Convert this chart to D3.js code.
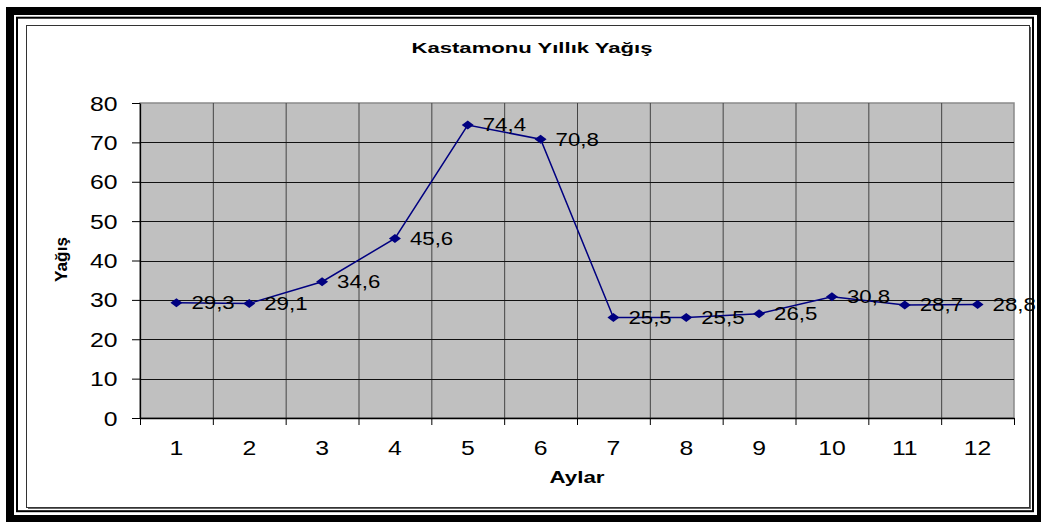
<!DOCTYPE html>
<html>
<head>
<meta charset="utf-8">
<script src="https://cdn.jsdelivr.net/npm/d3@7"></script>
<style>
  body { margin: 0; background: #fff; }
  text { font-family: "Liberation Sans", Arial, sans-serif; fill: #000; }
</style>
</head>
<body>
<div id="chart"></div>
<script>
// === DATA ===
const months = ["1", "2", "3", "4", "5", "6", "7", "8", "9", "10", "11", "12"];
const rainfall = [29.3, 29.1, 34.6, 45.6, 74.4, 70.8, 25.5, 25.5, 26.5, 30.8, 28.7, 28.8];
const yTicks = [0, 10, 20, 30, 40, 50, 60, 70, 80];
const chartTitle = "Kastamonu Yıllık Yağış";
const xTitle = "Aylar";
const yTitle = "Yağış";

// === LAYOUT ===
const width = 1041, height = 522;
const plot = { left: 140, top: 103, right: 1014, bottom: 418 };
const stretch = 1.27; // text in the reference is drawn a bit wide

const svg = d3.select("#chart")
    .append("svg")
    .attr("width", width)
    .attr("height", height);

// Outer frames
svg.append("rect").attr("x", 6).attr("y", 7).attr("width", 1041 - 6).attr("height", 522 - 7).attr("fill", "#000");
svg.append("rect").attr("x", 14).attr("y", 15).attr("width", 1037 - 14).attr("height", 515 - 15).attr("fill", "#fff");
svg.append("rect").attr("x", 17).attr("y", 17.7).attr("width", 1016).attr("height", 493.5)
    .attr("fill", "#fff").attr("stroke", "#000").attr("stroke-width", 2);

// Chart area border with a little shadow
svg.append("rect").attr("x", 26.5).attr("y", 25.5).attr("width", 1003).attr("height", 482)
    .attr("fill", "#fff").attr("stroke", "#333").attr("stroke-width", 1);
svg.append("line").attr("x1", 1030.5).attr("y1", 27).attr("x2", 1030.5).attr("y2", 509).attr("stroke", "#666");
svg.append("line").attr("x1", 28).attr("y1", 508.5).attr("x2", 1031).attr("y2", 508.5).attr("stroke", "#666");

// Scales
const x = d3.scaleBand().domain(months).range([plot.left, plot.right]).padding(0);
const y = d3.scaleLinear().domain([0, 80]).range([plot.bottom, plot.top]);

// Plot background
svg.append("rect")
    .attr("x", plot.left).attr("y", plot.top)
    .attr("width", plot.right - plot.left).attr("height", plot.bottom - plot.top)
    .attr("fill", "#c0c0c0")
    .attr("stroke", "#8a8a8a").attr("stroke-width", 1.5);

// Vertical grid at category boundaries
const bounds = months.map(m => x(m)).concat([plot.right]);
svg.append("g").selectAll("line")
    .data(bounds.slice(1, -1))
    .enter().append("line")
    .attr("x1", d => d + 0.5).attr("x2", d => d + 0.5)
    .attr("y1", plot.top).attr("y2", plot.bottom)
    .attr("stroke", "#444").attr("stroke-width", 1);

// Horizontal grid
svg.append("g").selectAll("line")
    .data(yTicks.slice(1, -1))
    .enter().append("line")
    .attr("x1", plot.left).attr("x2", plot.right)
    .attr("y1", d => Math.round(y(d)) + 0.5).attr("y2", d => Math.round(y(d)) + 0.5)
    .attr("stroke", "#111").attr("stroke-width", 1);

// Y axis
const yAxis = svg.append("g")
    .attr("transform", `translate(${plot.left},0)`)
    .call(d3.axisLeft(y).tickValues(yTicks).tickSize(8).tickSizeOuter(0));
yAxis.select(".domain").attr("stroke", "#000").attr("stroke-width", 1.3);
yAxis.selectAll(".tick line").attr("stroke", "#000");
yAxis.selectAll(".tick text")
    .attr("x", -22.5 / stretch).attr("dy", "0.36em")
    .attr("transform", `scale(${stretch},1)`)
    .style("font-size", "19.5px")
    .style("font-family", "'Liberation Sans', Arial, sans-serif");

// X axis: labels centred on categories, ticks on boundaries
const xAxis = svg.append("g")
    .attr("transform", `translate(0,${plot.bottom})`)
    .call(d3.axisBottom(x).tickSize(0).tickSizeOuter(0));
xAxis.select(".domain").attr("stroke", "#000").attr("stroke-width", 1.3);
xAxis.selectAll(".tick text")
    .attr("y", 37).attr("dy", 0)
    .attr("transform", `scale(${stretch},1)`)
    .style("font-size", "19.5px")
    .style("font-family", "'Liberation Sans', Arial, sans-serif");
svg.append("g").selectAll("line")
    .data(bounds)
    .enter().append("line")
    .attr("x1", d => d + 0.5).attr("x2", d => d + 0.5)
    .attr("y1", plot.bottom).attr("y2", plot.bottom + 7)
    .attr("stroke", "#000");

// Line
const points = months.map((m, i) => ({ m, v: rainfall[i] }));
const line = d3.line()
    .x(d => x(d.m) + x.bandwidth() / 2)
    .y(d => y(d.v));
svg.append("path")
    .datum(points)
    .attr("d", line)
    .attr("fill", "none")
    .attr("stroke", "#000080")
    .attr("stroke-width", 1.5);

// Diamond markers
svg.append("g").selectAll("path")
    .data(points)
    .enter().append("path")
    .attr("transform", d => `translate(${x(d.m) + x.bandwidth() / 2},${y(d.v)})`)
    .attr("d", "M0,-4.5L6,0L0,4.5L-6,0Z")
    .attr("fill", "#000080");

// Data labels
svg.append("g").selectAll("text")
    .data(points)
    .enter().append("text")
    .attr("transform", d => `translate(${x(d.m) + x.bandwidth() / 2 + 15},${y(d.v)}) scale(${stretch},1)`)
    .attr("dy", "0.36em")
    .style("font-size", "17.5px")
    .text(d => String(d.v).replace(".", ","));

// Titles
svg.append("text")
    .attr("x", 532).attr("y", 53)
    .attr("text-anchor", "middle")
    .attr("textLength", 241).attr("lengthAdjust", "spacingAndGlyphs")
    .style("font-size", "15.5px").style("font-weight", "bold")
    .text(chartTitle);

svg.append("text")
    .attr("x", 577).attr("y", 483)
    .attr("text-anchor", "middle")
    .attr("textLength", 55).attr("lengthAdjust", "spacingAndGlyphs")
    .style("font-size", "16.5px").style("font-weight", "bold")
    .text(xTitle);

svg.append("text")
    .attr("transform", "translate(67,259.5) rotate(-90)")
    .attr("text-anchor", "middle")
    .attr("textLength", 45).attr("lengthAdjust", "spacingAndGlyphs")
    .style("font-size", "17px").style("font-weight", "bold")
    .text(yTitle);
</script>
</body>
</html>
